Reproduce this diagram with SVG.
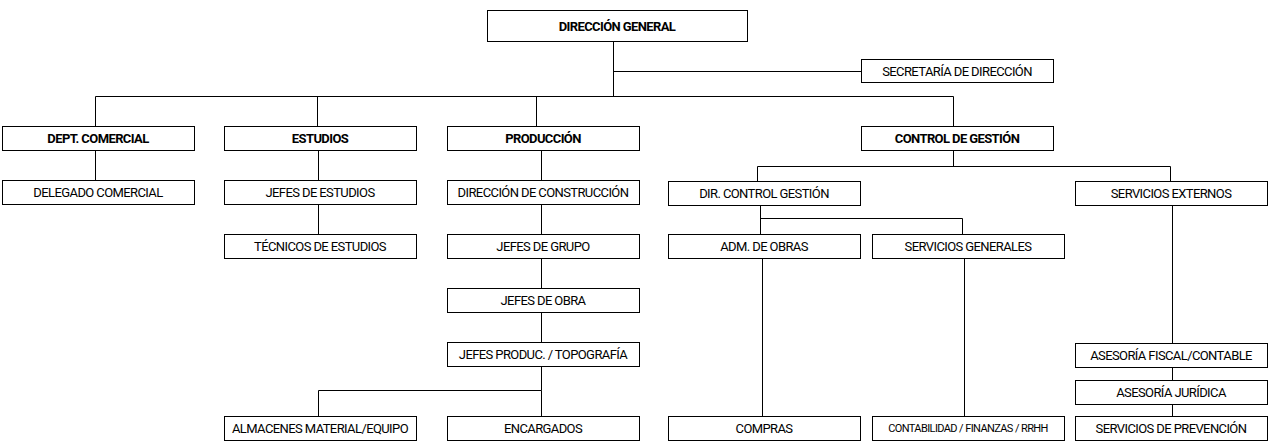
<svg xmlns="http://www.w3.org/2000/svg" width="1271" height="446" viewBox="0 0 1271 446">
<style>
rect{fill:#fff;stroke:#000;stroke-width:1}
text{font-family:Roboto,"Liberation Sans",sans-serif;font-size:13px;letter-spacing:-0.6px;text-anchor:middle;fill:#000}
.b{font-weight:bold}
.s{font-size:11px}
#c path{fill:none;stroke:#000;stroke-width:1}
</style>
<rect x="0" y="0" width="1271" height="446" style="stroke:none"/>
<g id="c"><path d="M613.5 41V96.5M613 71.5H861M95.5 126V96.5H953.5V126M317.5 96.5V126M536.5 96.5V126M95.5 150V180M318.5 150V180M318.5 204V234M541.5 150V180M541.5 204V234M541.5 258V288M541.5 312V342M541.5 366V390.5M318.5 416V390.5H541.5V416M953.5 150V166.5M757.5 181V166.5H1170.5V181M760.5 205V218.5H962.5V234M760.5 218V234M762.5 258V416M964.5 258V416M1172.5 206V343M1172.5 368V380M1172.5 404V416"/></g>
<g id="n1"><rect x="487.5" y="10.5" width="260" height="31"/><text class="b" x="617" y="31">DIRECCIÓN GENERAL</text></g>
<g id="n2"><rect x="861.5" y="59.5" width="192" height="23"/><text x="957" y="76">SECRETARÍA DE DIRECCIÓN</text></g>
<g id="n3"><rect x="2.5" y="126.5" width="192" height="24"/><text class="b" x="98" y="143">DEPT. COMERCIAL</text></g>
<g id="n4"><rect x="224.5" y="126.5" width="192" height="24"/><text class="b" x="320" y="143">ESTUDIOS</text></g>
<g id="n5"><rect x="447.5" y="126.5" width="192" height="24"/><text class="b" x="543" y="143">PRODUCCIÓN</text></g>
<g id="n6"><rect x="861.5" y="126.5" width="192" height="24"/><text class="b" x="957" y="143">CONTROL DE GESTIÓN</text></g>
<g id="n7"><rect x="2.5" y="180.5" width="192" height="24"/><text x="98" y="197">DELEGADO COMERCIAL</text></g>
<g id="n8"><rect x="224.5" y="180.5" width="192" height="24"/><text x="320" y="197">JEFES DE ESTUDIOS</text></g>
<g id="n9"><rect x="224.5" y="234.5" width="192" height="24"/><text x="320" y="251">TÉCNICOS DE ESTUDIOS</text></g>
<g id="n10"><rect x="447.5" y="180.5" width="192" height="24"/><text x="543" y="197">DIRECCIÓN DE CONSTRUCCIÓN</text></g>
<g id="n11"><rect x="447.5" y="234.5" width="192" height="24"/><text x="543" y="251">JEFES DE GRUPO</text></g>
<g id="n12"><rect x="447.5" y="288.5" width="192" height="24"/><text x="543" y="305">JEFES DE OBRA</text></g>
<g id="n13"><rect x="447.5" y="342.5" width="192" height="24"/><text x="543" y="359">JEFES PRODUC. / TOPOGRAFÍA</text></g>
<g id="n14"><rect x="224.5" y="416.5" width="192" height="24"/><text x="320" y="433">ALMACENES MATERIAL/EQUIPO</text></g>
<g id="n15"><rect x="447.5" y="416.5" width="192" height="24"/><text x="543" y="433">ENCARGADOS</text></g>
<g id="n16"><rect x="668.5" y="181.5" width="192" height="24"/><text x="764" y="198">DIR. CONTROL GESTIÓN</text></g>
<g id="n17"><rect x="1075.5" y="181.5" width="192" height="24"/><text x="1171" y="198">SERVICIOS EXTERNOS</text></g>
<g id="n18"><rect x="668.5" y="234.5" width="192" height="24"/><text x="764" y="251">ADM. DE OBRAS</text></g>
<g id="n19"><rect x="872.5" y="234.5" width="192" height="24"/><text x="968" y="251">SERVICIOS GENERALES</text></g>
<g id="n20"><rect x="668.5" y="416.5" width="192" height="24"/><text x="764" y="433">COMPRAS</text></g>
<g id="n21"><rect x="872.5" y="416.5" width="192" height="24"/><text class="s" x="968" y="432">CONTABILIDAD / FINANZAS / RRHH</text></g>
<g id="n22"><rect x="1075.5" y="343.5" width="192" height="24"/><text x="1171" y="360">ASESORÍA FISCAL/CONTABLE</text></g>
<g id="n23"><rect x="1075.5" y="380.5" width="192" height="24"/><text x="1171" y="397">ASESORÍA JURÍDICA</text></g>
<g id="n24"><rect x="1075.5" y="416.5" width="192" height="24"/><text x="1171" y="433">SERVICIOS DE PREVENCIÓN</text></g>
</svg>
